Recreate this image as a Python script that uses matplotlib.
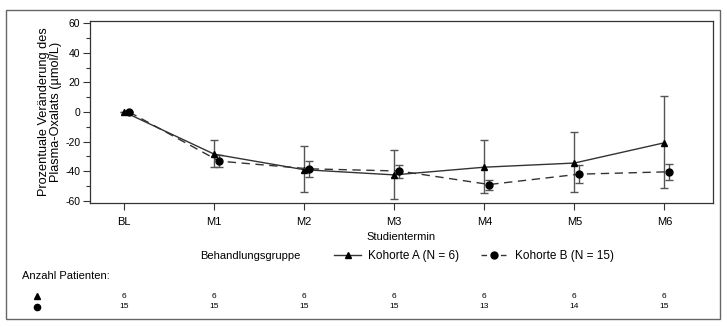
import matplotlib
matplotlib.use('Agg')
import matplotlib.pyplot as plt
import matplotlib.transforms as mtransforms
from matplotlib.lines import Line2D
from matplotlib.patches import Rectangle
import numpy as np

visits = ['BL', 'M1', 'M2', 'M3', 'M4', 'M5', 'M6']

# Kohorte A (triangles, solid)
mean_a = [0, -28.5, -39.0, -42.5, -37.3, -34.5, -20.8]
upper_a = [0, -18.6, -23.0, -25.4, -18.6, -13.4, 10.9]
lower_a = [0, -37.3, -54.3, -59.1, -55.0, -54.3, -51.3]

# Kohorte B (circles, dashed)
mean_b = [0, -33.2, -38.4, -39.9, -49.0, -42.0, -40.4]
upper_b = [0, -29.0, -33.0, -35.7, -45.7, -35.7, -35.2]
lower_b = [0, -37.4, -43.9, -44.3, -52.7, -48.2, -45.9]

n_a = [6, 6, 6, 6, 6, 6, 6]
n_b = [15, 15, 15, 15, 13, 14, 15]

label_a = 'Kohorte A (N = 6)'
label_b = 'Kohorte B (N = 15)'

plt.rcParams['font.family'] = ['Liberation Sans', 'DejaVu Sans']
plt.rcParams['axes.unicode_minus'] = False

W, H = 727, 327
fig = plt.figure(figsize=(W / 100, H / 100), dpi=100)
ax = fig.add_axes([90 / W, 1 - 203 / H, (713 - 90) / W, (203 - 21) / H])

x = np.arange(len(visits))
off_b = 0.055

ma = np.array(mean_a)
mb = np.array(mean_b)
err_a = [ma - np.array(lower_a), np.array(upper_a) - ma]
err_b = [mb - np.array(lower_b), np.array(upper_b) - mb]

ax.errorbar(x, ma, yerr=err_a, fmt='none', ecolor='#555555', elinewidth=1,
            capsize=3, capthick=1, zorder=2)
ax.errorbar(x + off_b, mb, yerr=err_b, fmt='none', ecolor='#555555', elinewidth=1,
            capsize=3, capthick=1, zorder=2)
ax.plot(x, ma, color='#333333', lw=1, marker='^', ms=5, mfc='black', mec='black',
        zorder=3)
ax.plot(x + off_b, mb, color='#333333', lw=1, ls=(0, (6, 4)), marker='o', ms=5,
        mfc='black', mec='black', zorder=3)

ax.set_xlim(-0.38, 6.54)
ax.set_ylim(-61.5, 61.5)
ax.set_xticks(x)
ax.set_xticklabels(visits)
ax.set_yticks(np.arange(-60, 61, 20))
ax.set_yticks(np.arange(-50, 51, 20), minor=True)
ax.tick_params(axis='both', which='major', labelsize=7.5, length=5, width=0.8,
               color='#333333', pad=2)
ax.tick_params(axis='y', which='minor', length=3, width=0.8, color='#333333')
ax.tick_params(axis='x', labelsize=8, pad=5)
for s in ax.spines.values():
    s.set_color('#333333')
    s.set_linewidth(0.9)

ax.set_ylabel('Prozentuale Veränderung des\nPlasma-Oxalats (µmol/L)', fontsize=9.2,
              linespacing=1.0)
ax.yaxis.set_label_coords(-28 / 623, 0.5)
ax.set_xlabel('Studientermin', fontsize=8)
ax.xaxis.set_label_coords(0.5, -29 / 182)

# legend row
fig.text(200 / W, 1 - 256 / H, 'Behandlungsgruppe', fontsize=8, va='center', ha='left')
handles = [
    Line2D([], [], color='#333333', lw=1, marker='^', ms=5, mfc='black', mec='black'),
    Line2D([], [], color='#333333', lw=1, ls=(0, (4, 3)), marker='o', ms=5,
           mfc='black', mec='black'),
]
fig.legend(handles, [label_a, label_b], loc='center left',
           bbox_to_anchor=(334 / W, 1 - 256 / H), ncol=2, frameon=False,
           fontsize=8.5, handlelength=2.3, handletextpad=0.6, columnspacing=1.8,
           borderaxespad=0, borderpad=0)

# patient counts
fig.text(22 / W, 1 - 276 / H, 'Anzahl Patienten:', fontsize=8, va='center', ha='left')
fig.add_artist(Line2D([37 / W], [1 - 296 / H], marker='^', ms=4.5, color='black',
                      transform=fig.transFigure))
fig.add_artist(Line2D([37 / W], [1 - 307 / H], marker='o', ms=4.5, color='black',
                      transform=fig.transFigure))
trans = mtransforms.blended_transform_factory(ax.transData, fig.transFigure)
for i in range(len(visits)):
    ax.text(x[i], 1 - 296 / H, str(n_a[i]), transform=trans, fontsize=6,
            ha='center', va='center')
    ax.text(x[i], 1 - 307 / H, str(n_b[i]), transform=trans, fontsize=6,
            ha='center', va='center')

# outer frame
fig.add_artist(Rectangle((6 / W, 1 - 319 / H), (720 - 6) / W, (319 - 10) / H,
                         transform=fig.transFigure, fill=False, ec='#666666', lw=1))

fig.savefig('out.png', dpi=100)
